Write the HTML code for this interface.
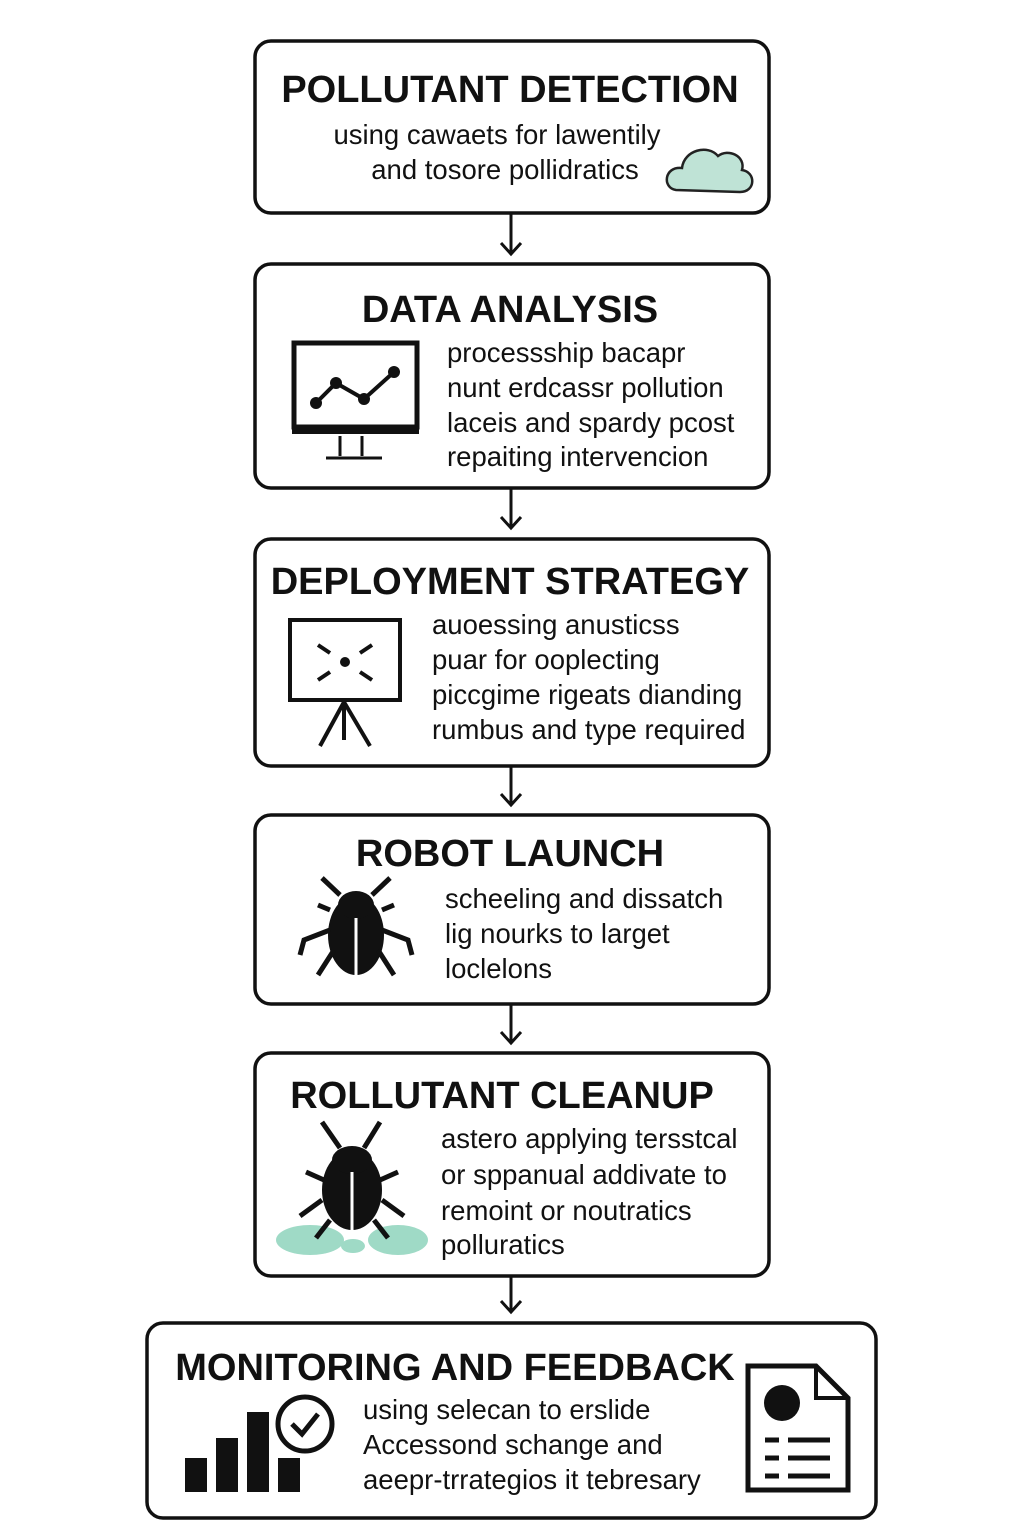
<!DOCTYPE html>
<html><head><meta charset="utf-8"><style>
html,body{margin:0;padding:0;background:#fff}
svg{display:block}
text{font-family:"Liberation Sans","DejaVu Sans",sans-serif;fill:#111}
.t{font-weight:bold;font-size:38px}
.b{font-size:27.5px}
.box{fill:#fff;stroke:#111;stroke-width:3.5}
</style></head><body>
<svg width="1024" height="1536" viewBox="0 0 1024 1536">
<rect class="box" x="255" y="41" width="514" height="172" rx="16"/>
<rect class="box" x="255" y="264" width="514" height="224" rx="16"/>
<rect class="box" x="255" y="539" width="514" height="227" rx="16"/>
<rect class="box" x="255" y="815" width="514" height="189" rx="16"/>
<rect class="box" x="255" y="1053" width="514" height="223" rx="16"/>
<rect class="box" x="147" y="1323" width="729" height="195" rx="16"/>
<g stroke="#111" stroke-width="3" fill="none">
<path d="M511 213V254M501 243L511 254L521 243"/>
<path d="M511 488V528M501 517L511 528L521 517"/>
<path d="M511 766V805M501 794L511 805L521 794"/>
<path d="M511 1004V1043M501 1032L511 1043L521 1032"/>
<path d="M511 1276V1312M501 1301L511 1312L521 1301"/>
</g>
<text class="t" x="510" y="102" text-anchor="middle">POLLUTANT DETECTION</text>
<text class="b" x="497" y="144" text-anchor="middle">using cawaets for lawentily</text>
<text class="b" x="505" y="179" text-anchor="middle">and tosore pollidratics</text>
<path d="M676 190 C662 188 664 166 682 168 C684 150 708 144 718 156 C728 148 746 156 742 170 C756 172 756 192 740 192 Z" fill="#bfe3d6" stroke="#222" stroke-width="2.5"/>
<text class="t" x="510" y="322" text-anchor="middle">DATA ANALYSIS</text>
<rect x="294" y="343" width="123" height="84" fill="#fff" stroke="#111" stroke-width="5"/>
<rect x="292" y="428" width="127" height="6" fill="#111"/>
<path d="M340 436V456M362 436V456M326 458H382" stroke="#111" stroke-width="3"/>
<path d="M316 403L336 383L364 399L394 372" stroke="#111" stroke-width="4" fill="none"/>
<g fill="#111"><circle cx="316" cy="403" r="6"/><circle cx="336" cy="383" r="6"/><circle cx="364" cy="399" r="6"/><circle cx="394" cy="372" r="6"/></g>
<text class="b" x="447" y="362">processship bacapr</text>
<text class="b" x="447" y="397">nunt erdcassr pollution</text>
<text class="b" x="447" y="432">laceis and spardy pcost</text>
<text class="b" x="447" y="466">repaiting intervencion</text>
<text class="t" x="510" y="594" text-anchor="middle">DEPLOYMENT STRATEGY</text>
<rect x="290" y="620" width="110" height="80" fill="#fff" stroke="#111" stroke-width="4"/>
<path d="M344 702L320 746M344 702L370 746M344 702V740" stroke="#111" stroke-width="4"/>
<circle cx="345" cy="662" r="5" fill="#111"/>
<path d="M318 645l12 8M372 645l-12 8M318 680l12-8M372 680l-12-8" stroke="#111" stroke-width="4"/>
<text class="b" x="432" y="634">auoessing anusticss</text>
<text class="b" x="432" y="669">puar for ooplecting</text>
<text class="b" x="432" y="704">piccgime rigeats dianding</text>
<text class="b" x="432" y="739">rumbus and type required</text>
<text class="t" x="510" y="866" text-anchor="middle">ROBOT LAUNCH</text>
<g fill="#111" stroke="#111">
<ellipse cx="356" cy="935" rx="28" ry="40" stroke="none"/>
<ellipse cx="356" cy="905" rx="18" ry="14" stroke="none"/>
<path d="M340 895L322 878M372 895L390 878M330 930L304 940L300 955M382 930L408 940L412 955M334 950L318 975M378 950L394 975M330 910L318 905M382 910L394 905" stroke-width="5" fill="none"/>
</g>
<path d="M356 918V975" stroke="#fff" stroke-width="3"/>
<text class="b" x="445" y="908">scheeling and dissatch</text>
<text class="b" x="445" y="943">lig nourks to larget</text>
<text class="b" x="445" y="978">loclelons</text>
<text class="t" x="502" y="1108" text-anchor="middle">ROLLUTANT CLEANUP</text>
<g fill="#9fdac6"><ellipse cx="310" cy="1240" rx="34" ry="15"/><ellipse cx="398" cy="1240" rx="30" ry="15"/><ellipse cx="353" cy="1246" rx="12" ry="7"/></g>
<g fill="#111" stroke="#111">
<ellipse cx="352" cy="1190" rx="30" ry="40" stroke="none"/>
<ellipse cx="352" cy="1160" rx="20" ry="14" stroke="none"/>
<path d="M340 1148L322 1122M364 1148L380 1122M324 1180L306 1172M380 1180L398 1172M322 1200L300 1216M382 1200L404 1216M330 1220L316 1238M374 1220L388 1238" stroke-width="5" fill="none"/>
</g>
<path d="M352 1172V1230" stroke="#fff" stroke-width="3"/>
<text class="b" x="441" y="1148">astero applying tersstcal</text>
<text class="b" x="441" y="1184">or sppanual addivate to</text>
<text class="b" x="441" y="1220">remoint or noutratics</text>
<text class="b" x="441" y="1254">polluratics</text>
<text class="t" x="455" y="1380" text-anchor="middle">MONITORING AND FEEDBACK</text>
<g fill="#111">
<rect x="185" y="1458" width="22" height="34"/>
<rect x="216" y="1438" width="22" height="54"/>
<rect x="247" y="1412" width="22" height="80"/>
<rect x="278" y="1458" width="22" height="34"/>
</g>
<circle cx="305" cy="1424" r="27" fill="#fff" stroke="#111" stroke-width="5"/>
<path d="M292 1424l10 10l16-20" stroke="#111" stroke-width="5" fill="none"/>
<text class="b" x="363" y="1419">using selecan to erslide</text>
<text class="b" x="363" y="1454">Accessond schange and</text>
<text class="b" x="363" y="1489">aeepr-trrategios it tebresary</text>
<path d="M748 1366H816L848 1398V1490H748Z" fill="#fff" stroke="#111" stroke-width="5"/>
<path d="M816 1366V1398H848" fill="none" stroke="#111" stroke-width="4"/>
<circle cx="782" cy="1403" r="18" fill="#111"/>
<g stroke="#111" stroke-width="5"><path d="M765 1440h14M788 1440h42M765 1458h14M788 1458h42M765 1476h14M788 1476h42"/></g>
</svg>
</body></html>
